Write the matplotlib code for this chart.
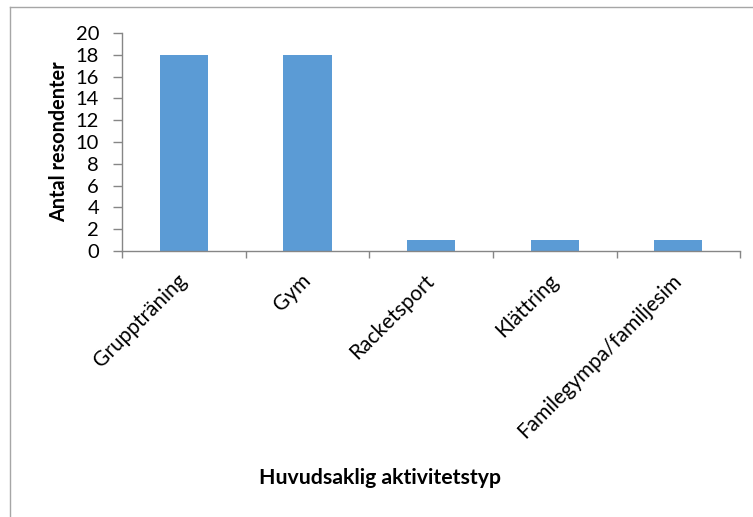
import matplotlib
matplotlib.use("Agg")
import matplotlib.pyplot as plt
from matplotlib.lines import Line2D
import numpy as np

categories = ["Gruppträning", "Gym", "Racketsport", "Klättring", "Familegympa/familjesim"]
counts = [18, 18, 1, 1, 1]
y_ticks = list(range(0, 21, 2))

plt.rcParams["font.family"] = ["Lato", "DejaVu Sans"]

fig = plt.figure(figsize=(7.53, 5.17), dpi=100)
ax = fig.add_axes([0.162, 0.5145, 0.821, 0.4215])

bar_color = "#5B9BD5"
axis_color = "#868686"

x = np.arange(len(categories))
ax.bar(x, counts, width=0.39, color=bar_color, zorder=2)

ax.set_xlim(-0.5, len(categories) - 0.5)
ax.set_ylim(0, 20)
ax.set_yticks(y_ticks)
ax.set_yticklabels([str(v) for v in y_ticks], fontsize=14.5)

# tick marks between categories, labels at category centres
ax.set_xticks(np.arange(-0.5, len(categories), 1.0))
ax.set_xticklabels([])
ax.set_xticks(x, minor=True)
ax.set_xticklabels(categories, minor=True, rotation=45, ha="right", va="center",
                   rotation_mode="anchor", fontsize=15)
ax.tick_params(axis="x", which="minor", length=0, pad=19)
ax.tick_params(axis="x", which="major", length=5, width=1, color=axis_color, direction="out")
ax.tick_params(axis="y", length=6.5, width=1, color=axis_color, direction="out", pad=10)

for side in ("top", "right"):
    ax.spines[side].set_visible(False)
for side in ("left", "bottom"):
    ax.spines[side].set_color(axis_color)
    ax.spines[side].set_linewidth(1)

ax.set_ylabel("Antal resondenter", fontsize=14.3, fontweight="bold", labelpad=5)
fig.text(0.5046, 1 - 478 / 517, "Huvudsaklig aktivitetstyp", ha="center", va="center",
         fontsize=15.3, fontweight="bold")

# chart frame
frame_color = "#a6a6a6"
fig.add_artist(Line2D([10 / 753, 1.0], [1 - 7 / 517, 1 - 7 / 517], transform=fig.transFigure,
                      color=frame_color, linewidth=1))
fig.add_artist(Line2D([10 / 753, 10 / 753], [0.0, 1 - 7 / 517], transform=fig.transFigure,
                      color=frame_color, linewidth=1))

fig.savefig("out.png", dpi=100)
